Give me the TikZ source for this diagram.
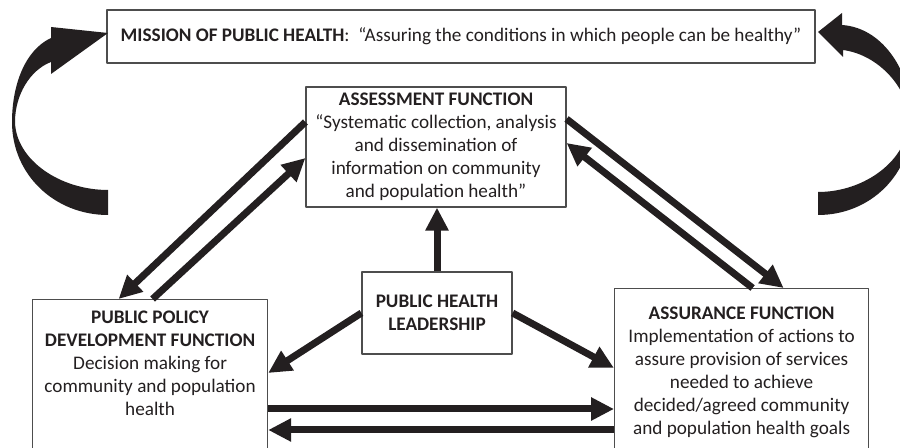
\documentclass[tikz,border=0pt]{standalone}
\usepackage{fontspec}
\setmainfont{Carlito}
\usetikzlibrary{arrows.meta,calc}
\definecolor{ink}{HTML}{231F20}
\definecolor{rim}{HTML}{4D4D4D}

\begin{document}
\begin{tikzpicture}[x=0.5pt, y=-0.5pt, font=\fontsize{9.6}{11.5}\selectfont, line join=round, >={Triangle[length=11.5pt,width=11pt]}]
	\tikzset{box/.style={draw=rim, line width=0.6pt, text=ink, inner sep=0pt, align=center},
		flow/.style={->, line width=3.5pt, draw=ink}}
	\clip (0,0) rectangle (900,448);
	\node[box, minimum width=354pt, minimum height=26.5pt] (mission) at (461,36.5) {\textbf{MISSION OF PUBLIC HEALTH}:~~“Assuring the conditions in which people can be healthy”};
	\node[box, minimum width=130pt, minimum height=60pt] (assess) at (436,147) {\textbf{ASSESSMENT FUNCTION}\\“Systematic collection, analysis\\and dissemination of\\information on community\\and population health”};
	\node[box, minimum width=75pt, minimum height=41pt] (lead) at (437,313) {\textbf{PUBLIC HEALTH}\\\textbf{LEADERSHIP}};
	\node[box, anchor=north west] (policy) at (32,299) {\parbox[t][90pt][t]{117.5pt}{\centering\rule{0pt}{12pt}\textbf{PUBLIC POLICY}\\\textbf{DEVELOPMENT FUNCTION}\\Decision making for\\community and population\\health}};
	\node[box, anchor=north west] (assure) at (614,288) {\parbox[t][90pt][t]{127pt}{\centering\rule{0pt}{15.5pt}\textbf{ASSURANCE FUNCTION}\\Implementation of actions to\\assure provision of services\\needed to achieve\\decided/agreed community\\and population health goals}};
	\draw[flow] ($(assess.west)+(0,-25)$) -- ($(policy.north)+(-31.5,0)$);
	\draw[flow] ($(policy.north)+(2.5,0)$) -- ($(assess.west)+(0,11)$);
	\draw[flow] ($(assess.east)+(0,-28)$) -- ($(assure.north)+(42,0)$);
	\draw[flow] ($(assure.north)+(11,0)$) -- ($(assess.east)+(0,-4)$);
	\draw[flow] (lead.north) -- (lead.north |- assess.south);
	\draw[flow] (lead.west) -- ($(policy.north east)+(0,74)$);
	\draw[flow] (lead.east) -- ($(assure.north west)+(0,80)$);
	\draw[flow] ($(policy.north east)+(0,110)$) -- ($(assure.north west)+(0,121)$);
	\draw[flow] ($(assure.north west)+(0,142)$) -- ($(policy.north east)+(0,131)$);
	\fill[ink] (108,190) .. controls (60,190) and (16,160) .. (15,122) .. controls (15,95) and (30,70) .. (51,62) -- (51,74) -- (108,33) -- (51,27) -- (51,38) .. controls (25,50) and (12,85) .. (12,122) .. controls (12,175) and (55,215) .. (108,215) -- cycle;
	\fill[ink] (818,192) .. controls (865,192) and (908,160) .. (909,120) .. controls (909,90) and (880,55) .. (843,50) -- (843,57) -- (818,32) -- (842,13) -- (842,25) .. controls (885,28) and (912,75) .. (912,120) .. controls (912,175) and (870,215) .. (818,215) -- cycle;
\end{tikzpicture}
\end{document}
